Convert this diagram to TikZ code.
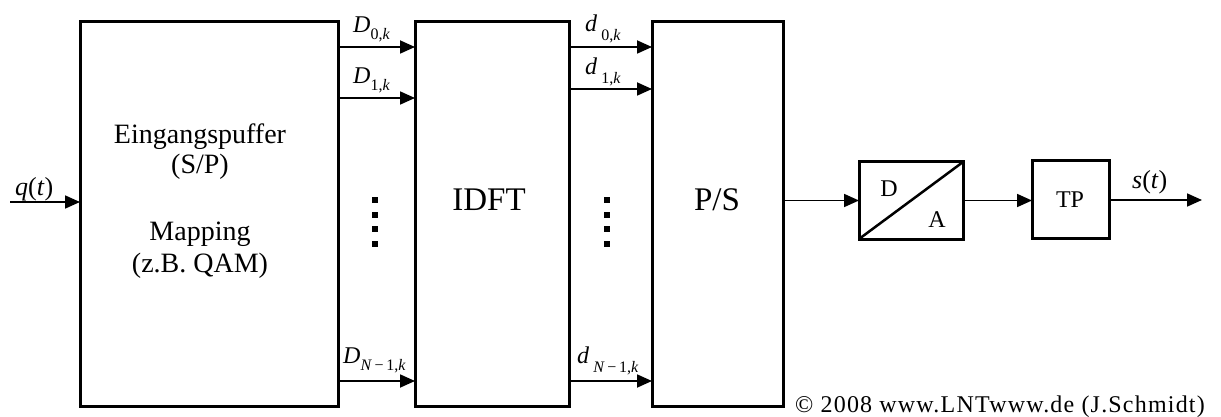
\documentclass[tikz,border=0pt]{standalone}
\usepackage{fontspec}
\setmainfont{Liberation Serif}
\usetikzlibrary{arrows.meta}
\newcommand\mysub[2]{\raisebox{-#1}{\fontsize{16pt}{16pt}\selectfont #2}}
\begin{document}
\begin{tikzpicture}[x=1pt,y=-1pt,
  blk/.style={draw,line width=3pt,inner sep=0pt,outer sep=0pt},
  arr/.style={line width=1.8pt,-{Triangle[length=15pt,width=13pt]}},
  ln/.style={line width=1.8pt},
  lbl/.style={inner sep=0pt,anchor=base west,font=\fontsize{24pt}{28pt}\selectfont},
  sig/.style={inner sep=0pt,anchor=base west,font=\fontsize{26pt}{30pt}\selectfont},
  txt/.style={inner sep=0pt,anchor=base,font=\fontsize{28pt}{32pt}\selectfont},
  big/.style={inner sep=0pt,font=\fontsize{33pt}{36pt}\selectfont},
  small/.style={inner sep=0pt,font=\fontsize{24pt}{28pt}\selectfont},
  dotbox/.style={fill,minimum size=6pt,inner sep=0pt}]
\useasboundingbox (0,0) rectangle (1221,417);
% blocks
\node[blk,minimum width=258pt,minimum height=384pt] (b1) at (209,214) {};
\node[blk,minimum width=154pt,minimum height=384pt] (b2) at (492,214) {};
\node[blk,minimum width=131pt,minimum height=384pt] (b3) at (717.5,214) {};
\node[blk,minimum width=104pt,minimum height=77pt] (da) at (911,200.5) {};
\node[blk,minimum width=77pt,minimum height=77pt] (tp) at (1070.5,199.5) {};
\draw[line width=2.5pt] (da.south west) -- (da.north east);
% texts in blocks
\node[txt] (t1) at (200,143) {Eingangspuffer};
\node[txt] (t2) at (200,173) {(S/P)};
\node[txt] (t3) at (200,240) {Mapping};
\node[txt] (t4) at (200,272) {(z.B. QAM)};
\node[big] (t5) at (489,200) {IDFT};
\node[big] (t6) at (717,200) {P/S};
\node[small] (t7) at (889,189) {D};
\node[small] (t8) at (937,220) {A};
\node[small] (t9) at (1070,200) {TP};
% input
\coordinate (qin) at (10,202);
\draw[arr] (qin) -- (qin -| b1.west);
\node[sig] (lq) at (15,195) {\textit{q}(\textit{t})};
% D arrows
\foreach \y/\n in {47/a,98/b,381/c}{
  \draw[arr] (b1.east |- 0,\y) -- (b2.west |- 0,\y);
}
\node[lbl] (lD0) at (353,33) {\textit{D}\mysub{7pt}{0,\textit{k}}};
\node[lbl] (lD1) at (353,84) {\textit{D}\mysub{7pt}{1,\textit{k}}};
\node[lbl] (lDN) at (343,363) {\textit{D}\mysub{7pt}{\textit{N}\,−\,1,\textit{k}}};
% d arrows
\foreach \y in {47,89,381}{
  \draw[arr] (b2.east |- 0,\y) -- (b3.west |- 0,\y);
}
\node[lbl] (ld0) at (585,32) {\textit{d}\,\mysub{9pt}{0,\textit{k}}};
\node[lbl] (ld1) at (585,75) {\textit{d}\,\mysub{9pt}{1,\textit{k}}};
\node[lbl] (ldN) at (577,363) {\textit{d}\,\mysub{9pt}{\textit{N}\,−\,1,\textit{k}}};
% dots
\foreach \y [count=\i] in {200,214.5,229,243.5}{
  \node[dotbox] (pa\i) at (375,\y) {};
  \node[dotbox] (pb\i) at (607,\y) {};
}
% output chain
\draw[arr] (b3.east |- da.west) -- (da.west);
\draw[arr] (da.east) -- (da.east -| tp.west);
\coordinate (sout) at (1202,200);
\draw[arr] (tp.east |- sout) -- (sout);
\node[sig] (ls) at (1132,188) {\textit{s}(\textit{t})};
% copyright
\node[inner sep=0pt,anchor=base west,font=\fontsize{24pt}{28pt}\selectfont\addfontfeature{LetterSpace=5}] (cp) at (795,412) {© 2008 www.LNTwww.de (J.Schmidt)};
\end{tikzpicture}
\end{document}
